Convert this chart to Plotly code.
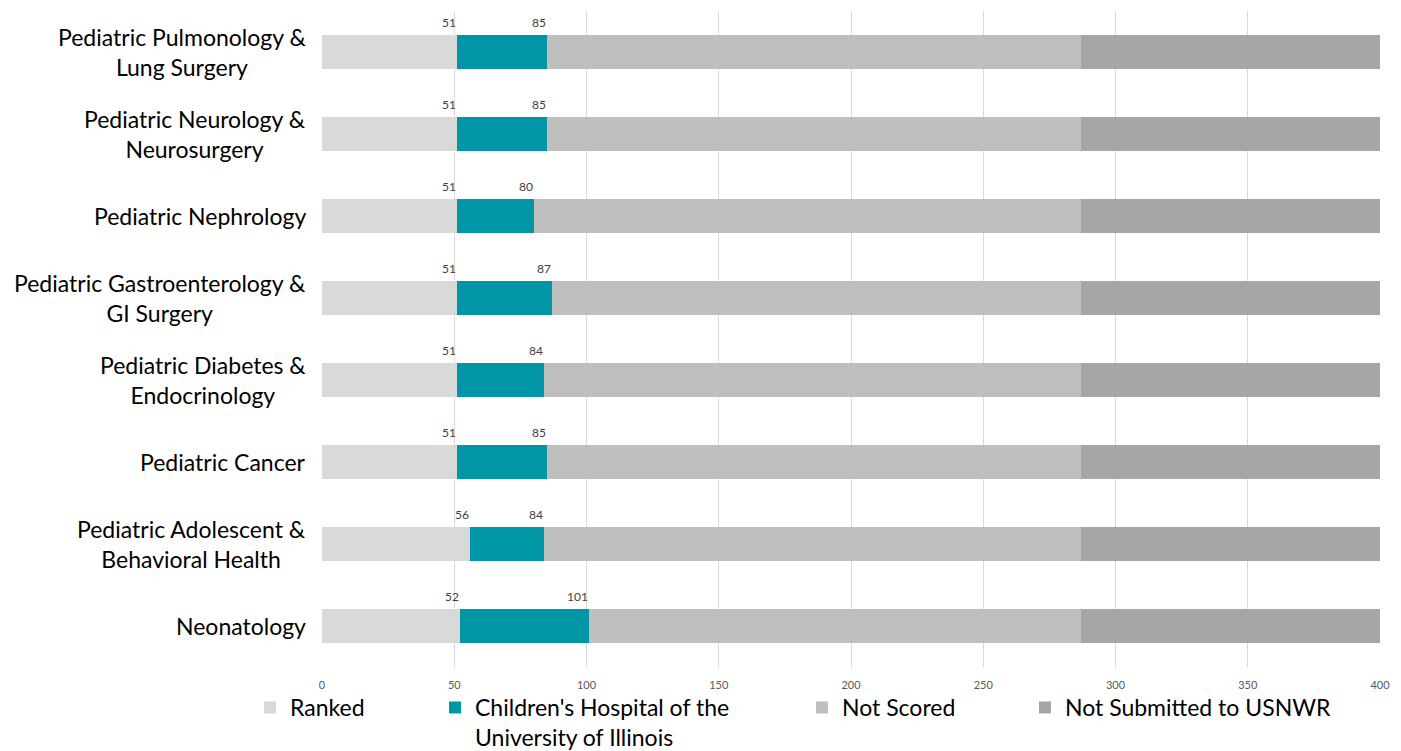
import plotly.graph_objects as go

categories = ["Neonatology", "Pediatric Adolescent &<br>Behavioral Health", "Pediatric Cancer",
              "Pediatric Diabetes &<br>Endocrinology", "Pediatric Gastroenterology &<br>GI Surgery",
              "Pediatric Nephrology", "Pediatric Neurology &<br>Neurosurgery",
              "Pediatric Pulmonology &<br>Lung Surgery"]
ranked_end = [52, 56, 51, 51, 51, 51, 51, 51]
chuiu_end = [101, 84, 85, 84, 87, 80, 85, 85]
scored_end = [287, 287, 287, 287, 287, 287, 287, 287]
total_end = [400, 400, 400, 400, 400, 400, 400, 400]
x_ticks = [0, 50, 100, 150, 200, 250, 300, 350, 400]

ranked = ranked_end
chuiu = [c - r for c, r in zip(chuiu_end, ranked_end)]
not_scored = [s - c for s, c in zip(scored_end, chuiu_end)]
not_sub = [t - s for t, s in zip(total_end, scored_end)]

ys = list(range(len(categories)))

series = [
    ("Ranked", ranked, "#d9d9d9", "legend"),
    ("Children's Hospital of the<br>University of Illinois", chuiu, "#0096a6", "legend2"),
    ("Not Scored", not_scored, "#bfbfbf", "legend3"),
    ("Not Submitted to USNWR", not_sub, "#a6a6a6", "legend4"),
]

fig = go.Figure()
for name, vals, col, lg in series:
    fig.add_trace(go.Bar(y=ys, x=vals, orientation="h", name=name,
                         marker=dict(color=col, line=dict(width=0)),
                         legend=lg, hoverinfo="x+name"))

for i in ys:
    for v in (ranked_end[i], chuiu_end[i]):
        fig.add_annotation(x=v, y=i, text=str(v), showarrow=False, xanchor="right",
                           yanchor="middle", yshift=30, xshift=1,
                           font=dict(family="Lato", size=12, color="#404040"))
    fig.add_annotation(x=0, xref="paper", y=i, yref="y", text=categories[i], showarrow=False,
                       xanchor="right", yanchor="middle", align="center", xshift=-14,
                       font=dict(family="Lato", size=23, color="#000000"))

legfont = dict(family="Lato", size=23, color="#000000")
def leg(x):
    return dict(orientation="h", x=x, xref="paper", y=-0.029, yref="paper", xanchor="left",
                yanchor="top", font=legfont, bgcolor="rgba(0,0,0,0)", itemwidth=30,
                tracegroupgap=0, valign="top")

W, H = 1393, 743
ML, MR, MT, MB = 314, 21, 3, 84
def px(p):
    return (p - ML) / (W - ML - MR)

fig.update_layout(
    width=W, height=H,
    margin=dict(l=ML, r=MR, t=MT, b=MB, autoexpand=False),
    barmode="stack", bargap=0.59,
    plot_bgcolor="white", paper_bgcolor="white",
    showlegend=True,
    legend=leg(px(242)), legend2=leg(px(427)), legend3=leg(px(794)), legend4=leg(px(1017)),
    xaxis=dict(range=[0, 400], tickvals=x_ticks, showgrid=True, gridcolor="#d9d9d9",
               gridwidth=1, zeroline=False, showline=False, ticklabelstandoff=10,
               tickfont=dict(family="Lato", size=11, color="#595959"), ticks=""),
    yaxis=dict(range=[-0.5, len(categories) - 0.5], showticklabels=False, showgrid=False,
               zeroline=False, showline=False, ticks=""),
)

fig.write_html("out.html")
